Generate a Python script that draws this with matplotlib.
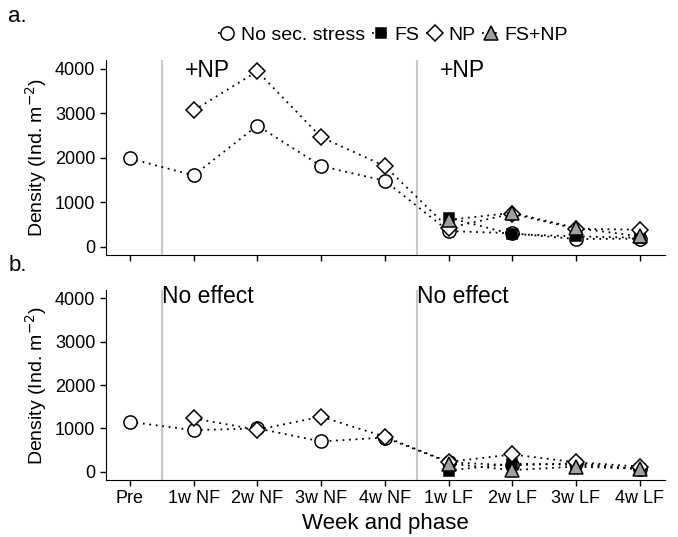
import numpy as np
import matplotlib
matplotlib.use("Agg")
import matplotlib.pyplot as plt

plt.rcParams['font.family'] = ['Liberation Sans', 'DejaVu Sans']

weeks = ["Pre", "1w NF", "2w NF", "3w NF", "4w NF", "1w LF", "2w LF", "3w LF", "4w LF"]
nan = np.nan

# panel a
none_a = [1980, 1600, 2720, 1810, 1480, 350, 300, 170, 180]
np_a = [nan, 3060, 3940, 2460, 1810, 420, 740, 400, 380]
fs_a = [nan, nan, nan, nan, nan, 650, 280, 230, 200]
fsnp_a = [nan, nan, nan, nan, nan, 600, 760, 420, 230]

# panel b
none_b = [1150, 960, 1000, 700, 790, 220, 150, 200, 60]
np_b = [nan, 1230, 970, 1270, 810, 230, 400, 220, 120]
fs_b = [nan, nan, nan, nan, nan, 30, 190, 160, 70]
fsnp_b = [nan, nan, nan, nan, nan, 190, 40, 120, 70]

notes_a = ["+NP", "+NP"]
notes_b = ["No effect", "No effect"]

styles = [
    ("No sec. stress", "o", "white"),
    ("FS", "s", "black"),
    ("NP", "D", "white"),
    ("FS+NP", "^", "#a0a0a0"),
]
ms = {"o": 9.5, "s": 7, "D": 8.3, "^": 10}

x = np.arange(1, len(weeks) + 1)


def draw_panel(ax, series, notes, note_x):
    ax.axvline(1.5, color="#c8c8c8", lw=1.5, zorder=0)
    ax.axvline(5.5, color="#c8c8c8", lw=1.5, zorder=0)
    handles = []
    for (label, mk, fc), y in zip(styles, series):
        y = np.array(y, dtype=float)
        m = ~np.isnan(y)
        h, = ax.plot(x[m], y[m], color="black", ls=(0, (1, 2.6)), lw=1.3,
                     marker=mk, ms=ms[mk], mfc=fc, mec="black", mew=1.1,
                     label=label)
        handles.append(h)
    for xx, (t, yy) in zip([1.5, 5.5], notes):
        ax.text(xx + note_x, yy, t, fontsize=16.5, va="center", ha="left")
    ax.set_xlim(0.62, 9.4)
    ax.set_ylim(-190, 4190)
    ax.set_yticks([0, 1000, 2000, 3000, 4000])
    ax.set_xticks(x)
    for s in ["top", "right"]:
        ax.spines[s].set_visible(False)
    ax.tick_params(direction="out", length=4, width=1, labelsize=13, colors="black")
    ax.set_ylabel("Density (Ind. m$^{-2}$)", fontsize=14)
    return handles


fig = plt.figure(figsize=(6.78, 5.37), dpi=100)
ax1 = fig.add_axes([0.156, 0.525, 0.825, 0.363])
ax2 = fig.add_axes([0.156, 0.106, 0.825, 0.354])

handles = draw_panel(ax1, [none_a, fs_a, np_a, fsnp_a],
                     [(notes_a[0], 3950), (notes_a[1], 3950)], 0.36)
draw_panel(ax2, [none_b, fs_b, np_b, fsnp_b],
           [(notes_b[0], 4050), (notes_b[1], 4050)], 0.0)

ax1.set_xticklabels([])
ax2.set_xticklabels(weeks)
ax2.set_xlabel("Week and phase", fontsize=16)

fig.legend(handles=handles, loc="center", bbox_to_anchor=(0.58, 0.935), ncol=4,
           frameon=False, handlelength=0.9, handletextpad=0.25, columnspacing=0.35,
           fontsize=14)

fig.text(0.012, 0.97, "a.", fontsize=16, va="center")
fig.text(0.012, 0.505, "b.", fontsize=16, va="center")

fig.savefig("out.png", dpi=100)
